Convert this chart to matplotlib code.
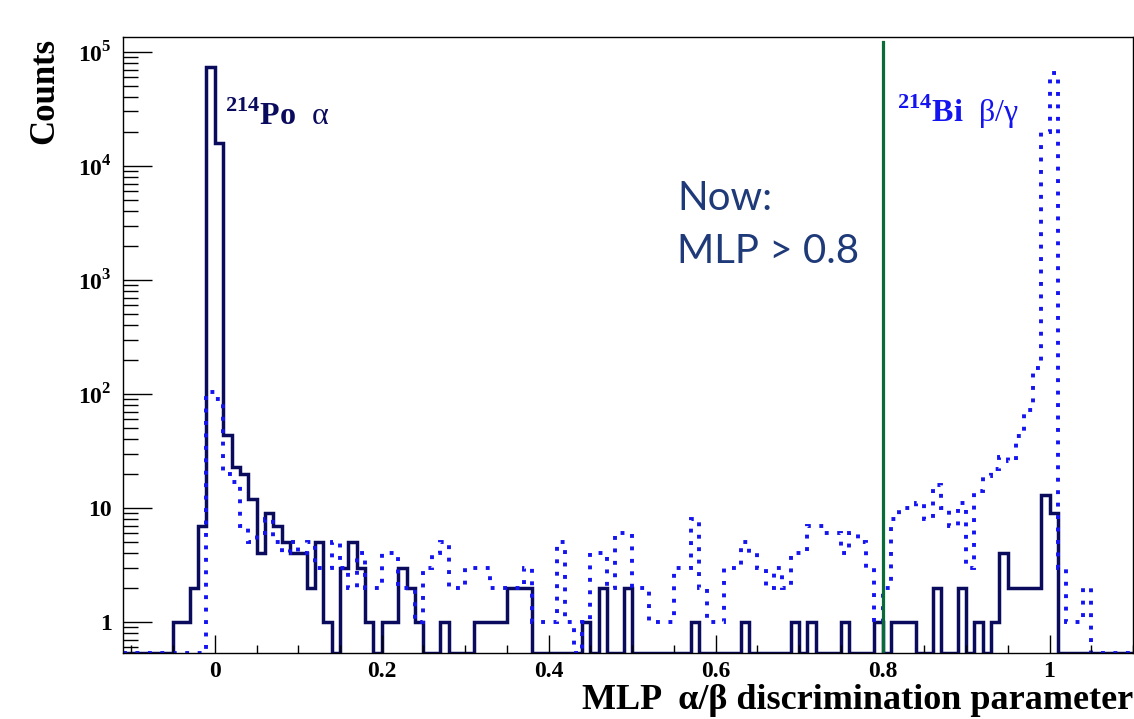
import numpy as np
import matplotlib.pyplot as plt
from matplotlib.ticker import FixedLocator, LogLocator, NullFormatter

plt.rcParams['font.family'] = ['Liberation Serif', 'DejaVu Serif']
plt.rcParams['mathtext.fontset'] = 'custom'
plt.rcParams['mathtext.rm'] = 'Liberation Serif:bold'
plt.rcParams['mathtext.bf'] = 'Liberation Serif:bold'

# histogram binning: 0.01 wide bins from -0.11 to 1.10
mlp_edges = np.round(np.arange(-0.11, 1.1001, 0.01), 2)

# 214Po alpha events (solid), bins -0.11 ... 1.09
po_counts = [
    0, 0, 0, 0, 0, 0, 1, 1, 2, 7,
    74000, 16000, 44, 23, 20, 12, 4, 9, 7, 5,
    4, 4, 2, 5, 1, 0, 3, 5, 3, 1,
    0, 1, 1, 3, 2, 1, 0, 0, 1, 0,
    0, 0, 1, 1, 1, 1, 2, 2, 2, 0,
    0, 0, 0, 0, 0, 1, 0, 2, 0, 0,
    2, 0, 0, 0, 0, 0, 0, 0, 1, 0,
    0, 0, 0, 0, 1, 0, 0, 0, 0, 0,
    1, 0, 1, 0, 0, 0, 1, 0, 0, 0,
    1, 0, 1, 1, 1, 0, 0, 2, 0, 0,
    2, 0, 1, 0, 1, 4, 2, 2, 2, 2,
    13, 9, 0, 0, 0, 0, 0, 0, 0, 0,
    0,
]

# 214Bi beta/gamma events (dotted)
bi_counts = [
    0, 0, 0, 0, 0, 0, 0, 0, 0, 0,
    105, 90, 20, 17, 7, 5, 6, 8, 5, 4,
    5, 4, 5, 3, 3, 5, 3, 2, 4, 2,
    2, 4, 4, 2, 2, 1, 3, 4, 5, 2,
    2, 3, 3, 3, 2, 2, 2, 2, 3, 1,
    1, 1, 5, 1, 0, 1, 4, 4, 2, 6,
    6, 2, 2, 1, 1, 1, 3, 3, 8, 2,
    1, 1, 3, 3, 5, 4, 3, 2, 3, 2,
    4, 4, 7, 7, 6, 6, 4, 6, 5, 3,
    1, 2, 8, 10, 10, 11, 8, 16, 10, 7,
    11, 3, 14, 19, 22, 28, 26, 43, 72, 170,
    20000, 65000, 3, 1, 1, 2, 0, 0, 0, 0,
    0,
]

mlp_cut = 0.8

navy = '#0b0b5e'
blue = '#1414f0'
green = '#0a6b3a'

y_lo, y_hi = 0.535, 1.35e5

fig = plt.figure(figsize=(11.34, 7.19), dpi=100)
ax = fig.add_axes([123 / 1134, 1 - 653 / 719, 1010 / 1134, 616 / 719])

po = np.maximum(np.array(po_counts, dtype=float), y_lo)
bi = np.maximum(np.array(bi_counts, dtype=float), y_lo)

ax.stairs(po, mlp_edges, baseline=y_lo, color=navy, lw=2.5)
ax.stairs(bi, mlp_edges, baseline=y_lo, color=blue, lw=2.8,
          linestyle=(0, (1.0, 2.2)))
ax.axvline(mlp_cut, ymin=0, ymax=0.992, color=green, lw=2.3)

ax.set_yscale('log')
ax.set_xlim(-0.11, 1.1)
ax.set_ylim(y_lo, y_hi)

ax.yaxis.set_major_locator(FixedLocator([1, 10, 100, 1e3, 1e4, 1e5]))
ax.set_yticklabels(['1', '10', '$10^{2}$', '$10^{3}$', '$10^{4}$', '$10^{5}$'],
                   fontsize=17, fontweight='bold')
ax.yaxis.set_minor_locator(LogLocator(base=10, subs=np.arange(2, 10)))
ax.yaxis.set_minor_formatter(NullFormatter())

ax.set_xticks([0, 0.2, 0.4, 0.6, 0.8, 1.0])
ax.set_xticklabels(['0', '0.2', '0.4', '0.6', '0.8', '1'],
                   fontsize=17, fontweight='bold')
ax.set_xticks(np.arange(-0.1, 1.1, 0.05), minor=True)

ax.tick_params(axis='y', which='major', direction='in', length=21, width=1, pad=8)
ax.tick_params(axis='y', which='minor', direction='in', length=11, width=1)
ax.tick_params(axis='x', which='major', direction='in', length=13, width=1, pad=6)
ax.tick_params(axis='x', which='minor', direction='in', length=6, width=1)
for s in ax.spines.values():
    s.set_linewidth(1)

fig.text(45 / 1134, 1 - 38 / 719, 'Counts', rotation=90, ha='center', va='top',
         fontsize=25, fontweight='bold')
fig.text(1133 / 1134, 1 - 709 / 719, 'MLP  α/β discrimination parameter',
         ha='right', va='baseline', fontsize=26, fontweight='bold')

fig.text(225 / 1134, 1 - 125 / 719, r'$^{214}\mathbf{Po}$  α', color=navy,
         ha='left', va='baseline', fontsize=23)
fig.text(897 / 1134, 1 - 122 / 719, r'$^{214}\mathbf{Bi}$  β/γ', color=blue,
         ha='left', va='baseline', fontsize=23)
fig.text(677 / 1134, 1 - 210 / 719, 'Now:', color='#1f3a78', ha='left',
         va='baseline', fontsize=29, family='Lato')
fig.text(677 / 1134, 1 - 263 / 719, 'MLP > 0.8', color='#1f3a78', ha='left',
         va='baseline', fontsize=29, family='Lato')

fig.savefig('out.png', dpi=100)
